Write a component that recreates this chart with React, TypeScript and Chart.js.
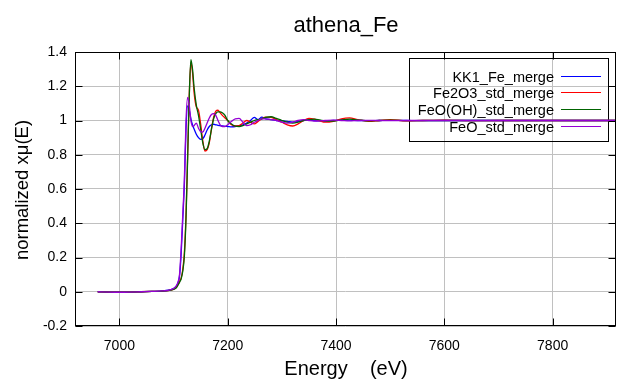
import React, { useEffect, useRef } from "react";
import { Chart, registerables } from "chart.js";

Chart.register(...registerables);

const chartTitle = "athena_Fe";
const xAxisLabel = "Energy    (eV)";
const yAxisLabel = "normalized xμ(E)";

const xTicks = [7000, 7200, 7400, 7600, 7800];
const yTicks = [-0.2, 0, 0.2, 0.4, 0.6, 0.8, 1, 1.2, 1.4];

const energy = [
  6960, 6980, 7000, 7020, 7040, 7060, 7080, 7095, 7104, 7108,
  7111, 7114, 7117, 7120, 7123, 7126, 7129, 7132, 7135, 7138,
  7142, 7146, 7150, 7154, 7158, 7162, 7166, 7170, 7174, 7178,
  7182, 7186, 7190, 7195, 7200, 7207, 7214, 7221, 7228, 7235,
  7242, 7249, 7256, 7263, 7270, 7280, 7290, 7300, 7310, 7320,
  7330, 7340, 7350, 7360, 7370, 7380, 7395, 7410, 7425, 7440,
  7460, 7480, 7500, 7530, 7560, 7600, 7650, 7700, 7750, 7800,
  7850, 7917,
];

const kk1Fe = [
  0.0, -0.002, -0.003, -0.002, 0.0, 0.002, 0.005, 0.012, 0.028, 0.05,
  0.09, 0.22, 0.42, 0.63, 0.95, 1.085, 1.06, 1.01, 0.975, 0.95,
  0.92, 0.9, 0.89, 0.893, 0.915, 0.945, 0.965, 0.975, 0.978, 0.975,
  0.972, 0.97, 0.968, 0.966, 0.965, 0.963, 0.965, 0.97, 0.975, 0.985,
  1.0, 1.018, 1.005, 1.02, 1.01, 1.005, 1.0, 0.998, 0.995, 0.99,
  0.995, 1.0, 1.003, 1.0, 0.998, 0.997, 1.0, 1.003, 1.002, 1.0,
  0.999, 1.0, 1.001, 1.0, 0.999, 1.0, 1.0, 1.0, 1.0, 1.0,
  1.0, 1.0,
];

const fe2o3Std = [
  0.0, -0.002, -0.003, -0.002, 0.0, 0.002, 0.004, 0.01, 0.022, 0.04,
  0.06, 0.08, 0.13, 0.23, 0.45, 0.8, 1.15, 1.34, 1.28, 1.16,
  1.08, 1.06, 0.98, 0.88, 0.822, 0.83, 0.87, 0.95, 1.02, 1.055,
  1.06, 1.045, 1.03, 1.015, 1.0, 0.975, 0.968, 0.97, 0.985, 1.0,
  0.99, 0.98, 0.995, 1.01, 1.02, 1.018, 1.005, 0.99, 0.975, 0.968,
  0.98, 1.0, 1.012, 1.008, 0.998, 0.99, 0.995, 1.01, 1.015, 1.005,
  0.995, 1.0, 1.005, 0.998, 1.0, 1.002, 0.999, 1.0, 1.0, 1.0,
  1.0, 1.0,
];

const feoohStd = [
  0.0, -0.002, -0.003, -0.002, 0.0, 0.002, 0.004, 0.01, 0.02, 0.038,
  0.055, 0.075, 0.12, 0.21, 0.43, 0.78, 1.14, 1.355, 1.3, 1.19,
  1.09, 1.03, 0.95, 0.87, 0.83, 0.835, 0.88, 0.95, 1.01, 1.04,
  1.05, 1.05, 1.045, 1.03, 1.0, 0.98, 0.967, 0.965, 0.97, 0.98,
  0.99, 1.0, 1.005, 1.01, 1.018, 1.022, 1.012, 1.0, 0.99, 0.985,
  0.99, 1.0, 1.005, 1.008, 1.003, 0.998, 0.997, 1.003, 1.008, 1.004,
  0.998, 1.0, 1.002, 0.999, 1.0, 1.0, 1.0, 1.0, 1.0, 1.0,
  1.0, 1.0,
];

const feoStd = [
  0.0, -0.002, -0.003, -0.002, 0.0, 0.002, 0.005, 0.012, 0.03, 0.055,
  0.1, 0.25, 0.45, 0.66, 1.0, 1.135, 1.09, 1.0, 0.965, 0.97,
  0.985, 0.955, 0.935, 0.932, 0.955, 0.985, 1.015, 1.035, 1.04, 1.03,
  1.0, 0.975, 0.965, 0.965, 0.975, 0.995, 1.01, 1.012, 0.99, 0.97,
  0.975, 0.99, 1.0, 1.01, 1.01, 1.005, 1.0, 0.99, 0.985, 0.99,
  1.0, 1.005, 1.0, 0.997, 0.998, 1.0, 1.002, 1.0, 0.998, 1.0,
  1.001, 1.0, 0.999, 1.0, 1.0, 1.0, 1.0, 1.0, 1.0, 1.0,
  1.0, 1.0,
];

const seriesNames = ["KK1_Fe_merge", "Fe2O3_std_merge", "FeO(OH)_std_merge", "FeO_std_merge"];
const seriesValues = [kk1Fe, fe2o3Std, feoohStd, feoStd];
const seriesColors = ["#0000ff", "#ff0000", "#006400", "#9400d3"];

const FONT = "'Liberation Sans', Arial, sans-serif";

const framePlugin = {
  id: "gnuplotFrame",
  beforeDraw(chart: any) {
    const ctx = chart.ctx;
    ctx.save();
    ctx.fillStyle = "#ffffff";
    ctx.fillRect(0, 0, chart.width, chart.height);
    ctx.restore();
  },
  beforeDatasetsDraw(chart: any) {
    const ctx = chart.ctx;
    ctx.save();
    ctx.strokeStyle = "#000000";
    ctx.lineWidth = 1;
    ctx.strokeRect(409.5, 58.5, 199, 83);
    ctx.font = `14.5px ${FONT}`;
    ctx.textAlign = "right";
    ctx.textBaseline = "alphabetic";
    seriesNames.forEach((name, i) => {
      const base = 81.7 + i * 16.7;
      ctx.fillStyle = "#000000";
      ctx.fillText(name, 554, base);
      ctx.strokeStyle = seriesColors[i];
      ctx.lineWidth = 1;
      const ly = Math.round(base - 6) + 0.5;
      ctx.beginPath();
      ctx.moveTo(561, ly);
      ctx.lineTo(601, ly);
      ctx.stroke();
    });
    ctx.restore();
  },
  afterDraw(chart: any) {
    const ctx = chart.ctx;
    const a = chart.chartArea;
    const xs = chart.scales.x;
    const ys = chart.scales.y;
    ctx.save();
    ctx.strokeStyle = "#000000";
    ctx.lineWidth = 1;
    const L = a.left + 0.5;
    const R = a.right - 0.5;
    const T = a.top + 0.5;
    const B = a.bottom - 0.5;
    const tl = 7;
    ctx.beginPath();
    xTicks.forEach((v) => {
      const px = Math.round(xs.getPixelForValue(v)) + 0.5;
      ctx.moveTo(px, B);
      ctx.lineTo(px, B - tl);
      ctx.moveTo(px, T);
      ctx.lineTo(px, T + tl);
    });
    yTicks.forEach((v) => {
      const py = Math.round(ys.getPixelForValue(v)) + 0.5;
      ctx.moveTo(L, py);
      ctx.lineTo(L + tl, py);
      ctx.moveTo(R, py);
      ctx.lineTo(R - tl, py);
    });
    ctx.stroke();
    ctx.strokeRect(L, T, R - L, B - T);

    ctx.fillStyle = "#000000";
    ctx.textBaseline = "alphabetic";
    ctx.textAlign = "center";
    ctx.font = `22px ${FONT}`;
    ctx.fillText(chartTitle, 346, 31.5);
    ctx.font = `20px ${FONT}`;
    ctx.fillText(xAxisLabel, 346, 374.5);
    ctx.save();
    ctx.translate(28, 190);
    ctx.rotate(-Math.PI / 2);
    ctx.font = `18.5px ${FONT}`;
    ctx.fillText(yAxisLabel, 0, 0);
    ctx.restore();
    ctx.restore();
  },
};

export default function App() {
  const canvasRef = useRef<HTMLCanvasElement | null>(null);

  useEffect(() => {
    if (!canvasRef.current) return;
    const datasets = seriesNames.map((name, i) => ({
      label: name,
      data: energy.map((e, j) => ({ x: e, y: seriesValues[i][j] })),
      borderColor: seriesColors[i],
      backgroundColor: seriesColors[i],
      borderWidth: 1.3,
      pointRadius: 0,
      fill: false,
      cubicInterpolationMode: "monotone" as const,
      order: seriesNames.length - 1 - i,
    }));
    const chart = new Chart(canvasRef.current, {
      type: "line",
      data: { datasets },
      plugins: [framePlugin],
      options: {
        animation: false,
        responsive: false,
        maintainAspectRatio: false,
        layout: { padding: { top: 52, right: 24, left: 0, bottom: 0 } },
        plugins: {
          legend: { display: false },
          title: { display: false },
          tooltip: { enabled: false },
        },
        scales: {
          x: {
            type: "linear",
            min: 6918,
            max: 7917,
            afterBuildTicks: (axis: any) => {
              axis.ticks = xTicks.map((v) => ({ value: v }));
            },
            afterFit: (s: any) => {
              s.height = 58;
            },
            grid: { color: "#c0c0c0", lineWidth: 1, drawTicks: false },
            border: { display: false },
            ticks: {
              color: "#000000",
              font: { family: FONT, size: 14 },
              padding: 12,
              maxRotation: 0,
              autoSkip: false,
              callback: (v: any) => String(v),
            },
          },
          y: {
            type: "linear",
            min: -0.2,
            max: 1.4,
            afterBuildTicks: (axis: any) => {
              axis.ticks = yTicks.map((v) => ({ value: v }));
            },
            afterFit: (s: any) => {
              s.width = 75;
            },
            grid: { color: "#c0c0c0", lineWidth: 1, drawTicks: false },
            border: { display: false },
            ticks: {
              color: "#000000",
              font: { family: FONT, size: 14 },
              padding: 8,
              autoSkip: false,
              callback: (v: any) => String(Number(Number(v).toFixed(1))),
            },
          },
        },
      },
    });
    return () => chart.destroy();
  }, []);

  return (
    <div style={{ position: "fixed", left: 0, top: 0, width: 640, height: 384, background: "#fff" }}>
      <canvas ref={canvasRef} width={640} height={384} style={{ display: "block" }} />
    </div>
  );
}
